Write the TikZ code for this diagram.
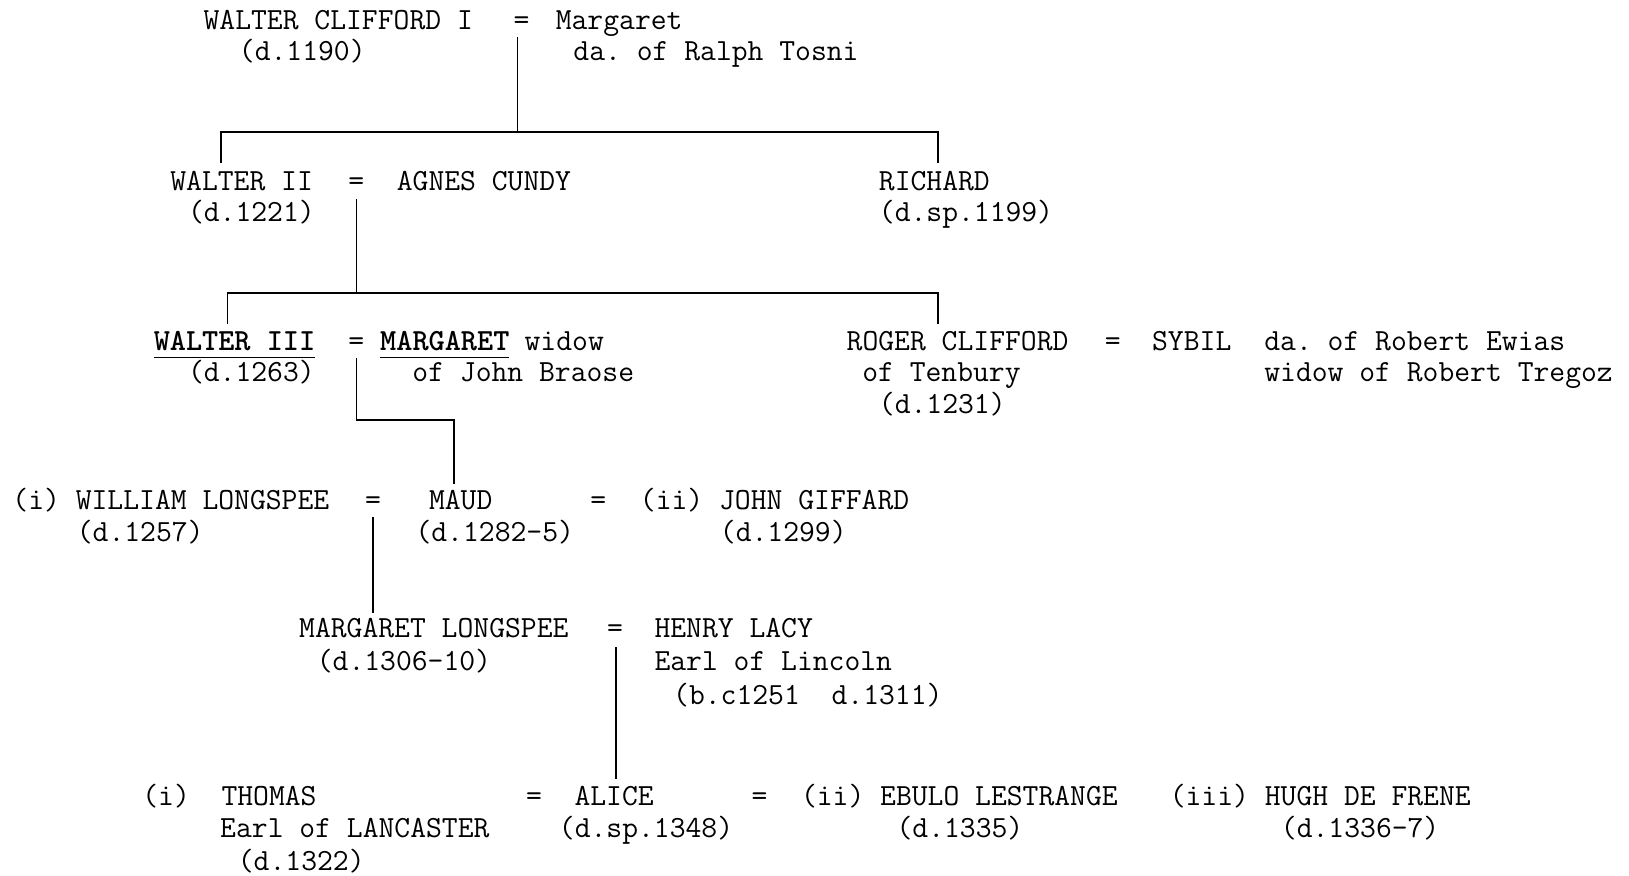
\documentclass[tikz,border=0pt]{standalone}
\usepackage{fontspec}
\newcommand\treefont{\fontsize{14.8}{18}\selectfont\ttfamily\frenchspacing}
\begin{document}
\begin{tikzpicture}[
    x=0.5pt, y=-0.5pt,
    every node/.style={anchor=base west, inner sep=0pt, outer sep=0pt, font=\treefont},
    eq/.style={anchor=base},
    heir/.style={font=\treefont\bfseries},
    line/.style={draw=black, line width=0.8pt}
]
    \useasboundingbox (0,0) rectangle (1568,843);

    % first generation
    \node (wc1) at (196,28) {WALTER CLIFFORD I};
    \node[eq] (eq1) at (502,28) {=};
    \node (mg1) at (535,28) {Margaret};
    \node (wc1d) at (230,58) {(d.1190)};
    \node (mg1da) at (552,58) {da. of Ralph Tosni};

    % second generation
    \node (wc2) at (164,183) {WALTER II};
    \node[eq] (eq2) at (343,183) {=};
    \node (ag) at (382,183) {AGNES CUNDY};
    \node (wc2d) at (181,213) {(d.1221)};
    \node (ri) at (846,183) {RICHARD};
    \node (rid) at (846,213) {(d.sp.1199)};

    % third generation
    \node[heir] (wc3) at (148,337) {WALTER III};
    \node[eq] (eq3) at (343,337) {=};
    \node[heir] (mg3) at (366,337) {MARGARET};
    \node (mg3w) at (505,337) {widow};
    \node (wc3d) at (181,367) {(d.1263)};
    \node (mg3j) at (397,367) {of John Braose};
    \node (rc) at (815,337) {ROGER CLIFFORD};
    \node[eq] (eq4) at (1071,337) {=};
    \node (sy) at (1109,337) {SYBIL};
    \node (syda) at (1217,337) {da. of Robert Ewias};
    \node (rct) at (830,367) {of Tenbury};
    \node (syw) at (1217,367) {widow of Robert Tregoz};
    \node (rcd) at (846,398) {(d.1231)};
    \draw[line] ([yshift=-3.5pt]wc3.base west) -- ([yshift=-3.5pt]wc3.base east);
    \draw[line] ([yshift=-3.5pt]mg3.base west) -- ([yshift=-3.5pt]mg3.base east);

    % fourth generation
    \node (wl) at (12,490) {(i) WILLIAM LONGSPEE};
    \node[eq] (eq5) at (359,490) {=};
    \node (md) at (413,490) {MAUD};
    \node[eq] (eq6) at (576,490) {=};
    \node (jg) at (616,490) {(ii) JOHN GIFFARD};
    \node (wld) at (74,521) {(d.1257)};
    \node (mdd) at (400,521) {(d.1282-5)};
    \node (jgd) at (693,521) {(d.1299)};

    % fifth generation
    \node (ml) at (288,614) {MARGARET LONGSPEE};
    \node[eq] (eq7) at (592,614) {=};
    \node (hl) at (630,614) {HENRY LACY};
    \node (mld) at (305,645) {(d.1306-10)};
    \node (hle) at (630,645) {Earl of Lincoln};
    \node (hld) at (648,678) {(b.c1251\ \ d.1311)};

    % sixth generation
    \node (th) at (137,775) {(i)\ \ THOMAS};
    \node[eq] (eq8) at (514,775) {=};
    \node (al) at (553,775) {ALICE};
    \node[eq] (eq9) at (731,775) {=};
    \node (eb) at (771,775) {(ii) EBULO LESTRANGE};
    \node (hu) at (1126,775) {(iii) HUGH DE FRENE};
    \node (the) at (212,806) {Earl of LANCASTER};
    \node (ald) at (538,806) {(d.sp.1348)};
    \node (ebd) at (863,806) {(d.1335)};
    \node (hud) at (1233,806) {(d.1336-7)};
    \node (thd) at (229,838) {(d.1322)};

    % lines of descent
    \coordinate (m1) at (498,36);
    \coordinate (b1) at (498,127);
    \coordinate (k1) at (213,157);
    \coordinate (k2) at (903,157);
    \draw[line] (m1) -- (b1);
    \draw[line] (k1) |- (b1) -| (k2);

    \coordinate (m2) at (343,192);
    \coordinate (b2) at (343,282);
    \coordinate (k3) at (219,312);
    \coordinate (k4) at (903,312);
    \draw[line] (m2) -- (b2);
    \draw[line] (k3) |- (b2) -| (k4);

    \coordinate (m3) at (343,345);
    \coordinate (b3) at (343,404);
    \coordinate (k5) at (437,466);
    \draw[line] (m3) -- (b3) -| (k5);

    \coordinate (m4) at (359,498);
    \coordinate (k6) at (359,590);
    \draw[line] (m4) -- (k6);

    \coordinate (m5) at (593,623);
    \coordinate (k7) at (593,750);
    \draw[line] (m5) -- (k7);
\end{tikzpicture}
\end{document}
